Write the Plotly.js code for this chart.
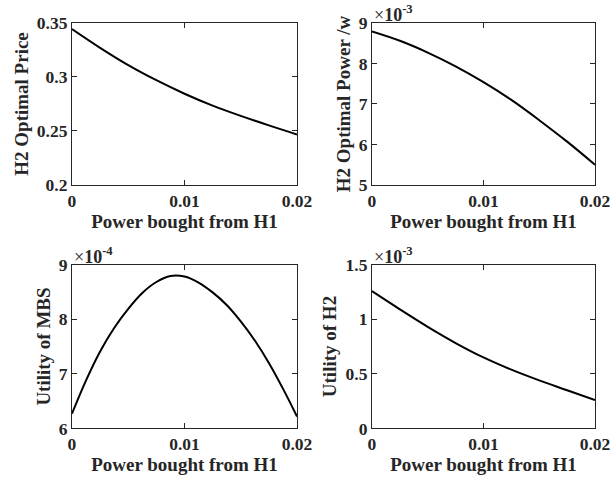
<!DOCTYPE html>
<html>
<head>
<meta charset="utf-8">
<script src="https://cdn.plot.ly/plotly-3.0.1.min.js"></script>
<style>html,body{margin:0;padding:0;background:#fff;}#chart{width:611px;height:485px;}</style>
</head>
<body>
<div id="chart"></div>
<script>
// Power bought from H1 (x values)
const xGrid = [0, 0.0025, 0.005, 0.0075, 0.01, 0.0125, 0.015, 0.0175, 0.02];
const priceH2 = [0.3444, 0.3270, 0.3110, 0.2970, 0.2845, 0.2735, 0.2640, 0.2552, 0.2468];
const powerH2E3 = [8.79, 8.56, 8.27, 7.93, 7.54, 7.10, 6.60, 6.07, 5.50];   // x 1e-3
const utilH2E3 = [1.256, 1.090, 0.930, 0.782, 0.650, 0.538, 0.440, 0.350, 0.260]; // x 1e-3

const xMBS = [0, 0.00125, 0.0025, 0.00375, 0.005, 0.00625, 0.0075, 0.00875, 0.01, 0.01125, 0.0125, 0.01375, 0.015, 0.01625, 0.0175, 0.01875, 0.02];
const utilMBSE4 = [6.27, 6.88, 7.41, 7.84, 8.19, 8.48, 8.68, 8.79, 8.78, 8.67, 8.49, 8.26, 7.96, 7.61, 7.20, 6.73, 6.22]; // x 1e-4

const xTicks = [0, 0.01, 0.02];
const xTickLabels = ['0', '0.01', '0.02'];
const yTicks1 = [0.2, 0.25, 0.3, 0.35];
const yTickLabels1 = ['0.2', '0.25', '0.3', '0.35'];
const yTicks2 = [5, 6, 7, 8, 9];
const yTicks3 = [6, 7, 8, 9];
const yTicks4 = [0, 0.5, 1, 1.5];
const yTickLabels4 = ['0', '0.5', '1', '1.5'];

const xTitle = 'Power bought from H1';
const yTitles = ['H2 Optimal Price', 'H2 Optimal Power /w', 'Utility of MBS', 'Utility of H2'];
const exponents = ['', '-3', '-4', '-3'];

const FONT = '"Liberation Serif", "Times New Roman", serif';
const AX = '#262626';
const b = s => '<b>' + s + '</b>';

const series = [
  [xGrid, priceH2], [xGrid, powerH2E3], [xMBS, utilMBSE4], [xGrid, utilH2E3]
];
const traces = series.map((s, i) => ({
  type: 'scatter', mode: 'lines', x: s[0], y: s[1],
  xaxis: i ? 'x' + (i + 1) : 'x', yaxis: i ? 'y' + (i + 1) : 'y',
  line: {color: '#000', width: 2, shape: 'spline', smoothing: 1},
  hoverinfo: 'skip', showlegend: false
}));

const xd = [[0.1178, 0.4861], [0.6088, 0.9738]];
const yd = [[0.6186, 0.9526], [0.1165, 0.4546]];

const tf = {family: FONT, size: 17.5, color: AX};
const titleFont = {family: FONT, size: 19, color: AX};
function common() {
  return {
    ticks: 'inside', ticklen: 5, tickwidth: 1, tickcolor: AX, showline: true, linecolor: AX, linewidth: 1,
    mirror: 'ticks', showgrid: false, zeroline: false, tickfont: tf, ticklabeloverflow: 'allow'
  };
}
function xax(dom, anchor) {
  return Object.assign(common(), {
    domain: dom, anchor: anchor, range: [0, 0.02], tickvals: xTicks, ticktext: xTickLabels.map(b),
    title: {text: b(xTitle), font: titleFont, standoff: 0}
  });
}
function yax(dom, anchor, range, tv, tt, title) {
  return Object.assign(common(), {
    domain: dom, anchor: anchor, range: range, tickvals: tv, ticktext: tt.map(b),
    title: {text: b(title), font: titleFont, standoff: 3}
  });
}

const layout = {
  width: 611, height: 485, margin: {l: 0, r: 0, t: 0, b: 0},
  paper_bgcolor: '#fff', plot_bgcolor: '#fff',
  xaxis: xax(xd[0], 'y'),
  yaxis: yax(yd[0], 'x', [0.2, 0.35], yTicks1, yTickLabels1, yTitles[0]),
  xaxis2: xax(xd[1], 'y2'),
  yaxis2: yax(yd[0], 'x2', [5, 9], yTicks2, yTicks2.map(String), yTitles[1]),
  xaxis3: xax(xd[0], 'y3'),
  yaxis3: yax(yd[1], 'x3', [6, 9], yTicks3, yTicks3.map(String), yTitles[2]),
  xaxis4: xax(xd[1], 'y4'),
  yaxis4: yax(yd[1], 'x4', [0, 1.5], yTicks4, yTickLabels4, yTitles[3]),
  annotations: [1, 2, 3].map(i => ({
    text: '×<b>10<sup>' + exponents[i] + '</sup></b>', xref: 'paper', yref: 'paper',
    x: xd[i % 2][0], y: yd[i < 2 ? 0 : 1][1], xanchor: 'left', yanchor: 'bottom',
    showarrow: false, xshift: 0, yshift: -4,
    font: {family: FONT, size: 18, color: AX}
  }))
};

Plotly.newPlot('chart', traces, layout, {staticPlot: true, displayModeBar: false});
</script>
</body>
</html>
